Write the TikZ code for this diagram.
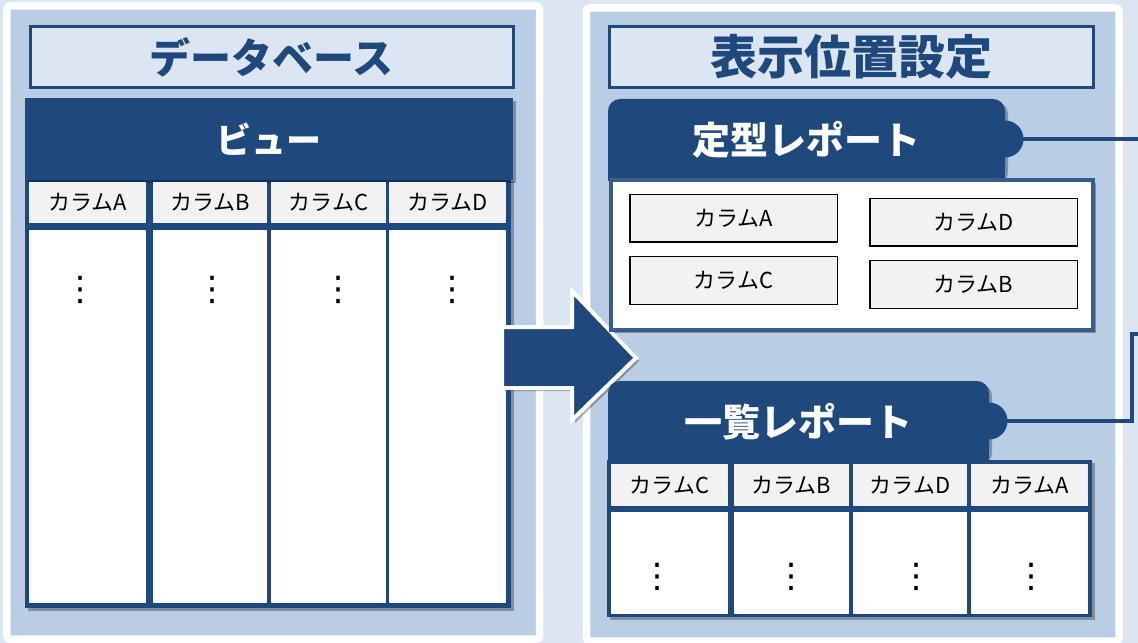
\documentclass[tikz,border=0pt]{standalone}
\usepackage{fontspec}
\newfontfamily\jpfont{Noto Sans CJK JP}
\newfontfamily\dotfont{DejaVu Sans}
\usetikzlibrary{shadows}
\definecolor{navy}{HTML}{1F497D}
\definecolor{panelblue}{HTML}{B9CDE5}
\definecolor{pagebg}{HTML}{DCE6F2}
\definecolor{cellgrey}{HTML}{F2F2F2}
\definecolor{edgeblue}{HTML}{385D8A}
\tikzset{
  shade/.style={drop shadow={shadow xshift=3bp, shadow yshift=-3bp, opacity=.3, fill=black}},
  panel/.style={draw=white, line width=7.5bp, fill=panelblue, rounded corners=3bp},
  titlebox/.style={draw=navy, line width=3bp, fill=pagebg, text=navy, font=\jpfont\bfseries\fontsize{44bp}{44bp}\selectfont},
  tabnode/.style={fill=navy, text=white, rounded corners=12bp, shade, font=\jpfont\bfseries\fontsize{38bp}{38bp}\selectfont},
  bump/.style={circle, fill=navy, minimum size=37bp},
  gridframe/.style={fill=navy, shade},
  headcell/.style={fill=cellgrey, font=\jpfont\fontsize{22bp}{22bp}\selectfont},
  bodycell/.style={fill=white},
  colbox/.style={draw=black, line width=1.5bp, fill=cellgrey, minimum width=207.5bp, minimum height=47.5bp, font=\jpfont\fontsize{22bp}{22bp}\selectfont},
  reportbody/.style={draw=edgeblue, line width=4bp, fill=white, shade},
  dotmark/.style={font=\dotfont\fontsize{34bp}{34bp}\selectfont},
  linkline/.style={navy, line width=4bp}
}
\begin{document}
\begin{tikzpicture}[x=1bp, y=-1bp, every node/.style={inner sep=0pt, outer sep=0pt}]
  \path[use as bounding box, fill=pagebg] (0,0) rectangle (1138,643);
  % panels
  \node[panel, minimum width=532.5bp, minimum height=633bp] (dbpanel) at (273.25,322.5) {};
  \node[panel, minimum width=532.5bp, minimum height=633bp] (setpanel) at (852.75,324.5) {};
  \node[titlebox, minimum width=483.5bp, minimum height=61bp, font=\jpfont\bfseries\fontsize{41bp}{41bp}\selectfont] (dbtitle) at (271.8,57) {データベース};
  \node[titlebox, minimum width=484.2bp, minimum height=61bp, font=\jpfont\bfseries\fontsize{47bp}{47bp}\selectfont] (settitle) at (851.1,57) {表示位置設定};

  % view table
  \node[gridframe, minimum width=485.2bp, minimum height=430bp] (viewgrid) at (268.1,393) {};
  \node[tabnode, rounded corners=0pt, minimum width=487.5bp, minimum height=82bp, font=\jpfont\bfseries\fontsize{35bp}{35bp}\selectfont] (view) at (268.75,139) {ビュー};
  \foreach \col/\cx/\w/\dx in {A/87.5/117/80, B/210/114/212, C/328.5/115/338, D/447.5/117/452} {
    \node[headcell, minimum width=\w bp, minimum height=41bp] (viewhead\col) at (\cx,202.5) {カラム\col};
    \node[bodycell, minimum width=\w bp, minimum height=373bp] (viewbody\col) at (\cx,416.5) {};
    \node[dotmark] (viewdots\col) at (\dx,290) {⋮};
  }

  % arrow
  \draw[fill=navy, draw=white, line width=4bp, line join=miter, shade]
    (502,327) -- (572,327) -- (572,291) -- (636,358) -- (572,420) -- (572,388) -- (502,388) -- cycle;

  % fixed report
  \node[tabnode, minimum width=397bp, minimum height=82bp] (fixtab) at (806.5,140) {定型レポート};
  \fill[navy] (608,166) rectangle (1005,181);
  \node[bump] (fixbump) at (1005,139) {};
  \coordinate (fixout) at (1140,139);
  \draw[linkline] (fixbump.center) -- (fixout);
  \node[reportbody, minimum width=482.5bp, minimum height=150bp] (fixbody) at (851.75,255) {};
  \node[colbox] (fixA) at (733.5,218.5) {カラムA};
  \node[colbox] (fixD) at (973.5,222.5) {カラムD};
  \node[colbox] (fixC) at (733.5,280.5) {カラムC};
  \node[colbox] (fixB) at (973.5,284.5) {カラムB};

  % list report
  \node[tabnode, minimum width=381bp, minimum height=81bp] (listtab) at (798.5,421.5) {一覧レポート};
  \fill[navy] (608,448) rectangle (989,462);
  \node[bump] (listbump) at (989,421) {};
  \coordinate (listturn) at (1132,334);
  \coordinate (listout) at (1140,334);
  \draw[linkline] (listbump.center) -| (listturn) -- (listout);
  \node[gridframe, minimum width=485bp, minimum height=157bp] (listgrid) at (849.5,538.5) {};
  \foreach \col/\cx/\w/\dx in {C/669.5/117/657, B/791.5/115/791, D/910/114/916, A/1029.5/117/1031} {
    \node[headcell, minimum width=\w bp, minimum height=42bp] (listhead\col) at (\cx,485) {カラム\col};
    \node[bodycell, minimum width=\w bp, minimum height=102bp] (listbody\col) at (\cx,563) {};
    \node[dotmark] (listdots\col) at (\dx,577) {⋮};
  }
\end{tikzpicture}
\end{document}
